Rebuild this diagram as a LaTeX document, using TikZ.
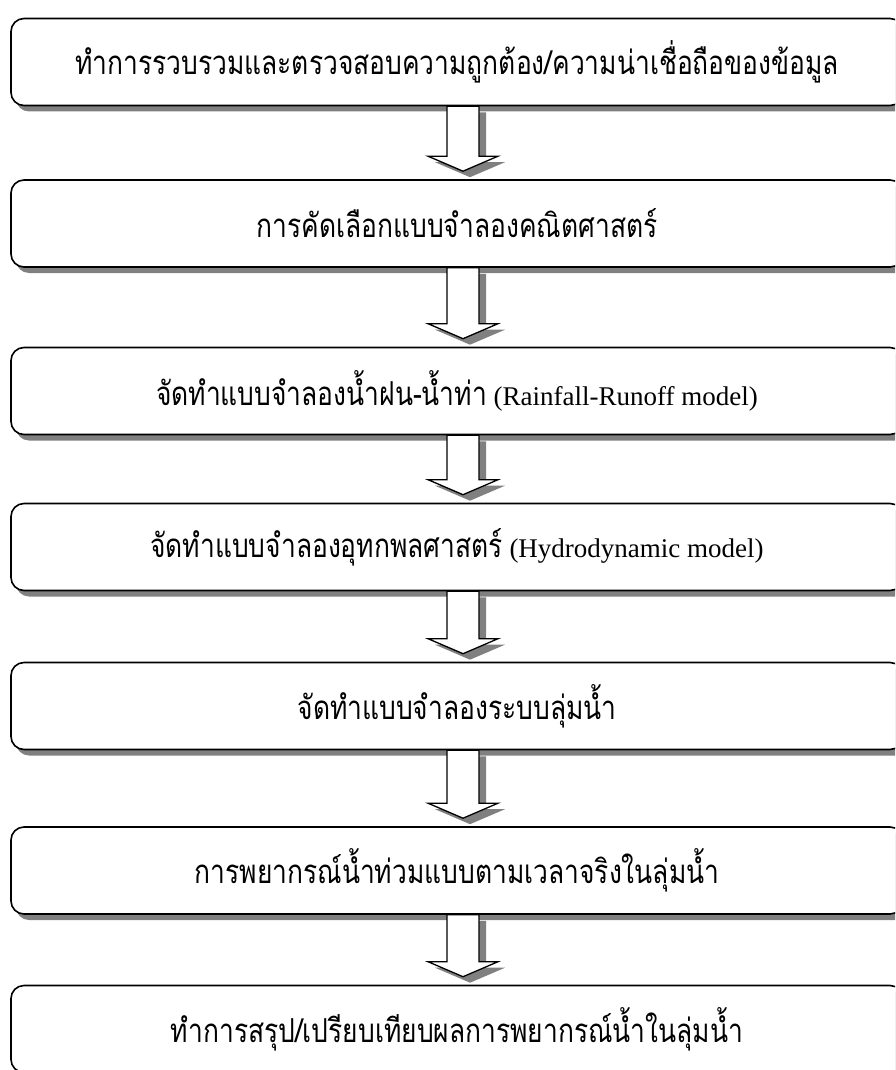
\documentclass[tikz,border=0pt]{standalone}
\usepackage{fontspec}
\setmainfont{Liberation Serif}
\newfontfamily\thaifont[Script=Thai,FakeStretch=0.80]{Loma}
\usetikzlibrary{shadows,calc}
\definecolor{shadowgray}{HTML}{808080}
% #1,#2 node names; #3,#4 offset (pt); #5 style
\newcommand{\arrowpoly}[5]{%
  \path[#5] let \p1=(#1.south), \p2=(#2.north) in
    (\x1-10pt+#3,\y1-#4) -- (\x1-10pt+#3,\y2+23pt-#4) -- (\x1-29pt+#3,\y2+23pt-#4)
    -- (\x1+6pt+#3,\y2+8pt-#4) -- (\x1+41pt+#3,\y2+23pt-#4) -- (\x1+22pt+#3,\y2+23pt-#4)
    -- (\x1+22pt+#3,\y1-#4) -- cycle;
}
\newcommand{\blockarrow}[2]{%
  \arrowpoly{#1}{#2}{7pt}{6pt}{fill=shadowgray}%
  \arrowpoly{#1}{#2}{0pt}{0pt}{arrowshape}%
}
\newcommand{\tht}[1]{{\fontsize{33}{38}\thaifont #1}}
\begin{document}
\begin{tikzpicture}[x=1pt,y=-1pt,
  stepbox/.style={draw=black, line width=1.6pt, rounded corners=13pt, fill=white,
    minimum width=892pt, minimum height=87pt, inner sep=0pt,
    font=\fontsize{27}{32}\selectfont,
    drop shadow={shadow xshift=5pt, shadow yshift=-6pt, fill=shadowgray, opacity=1}},
  arrowshape/.style={draw=black, line width=1.3pt, fill=white, line join=miter}]
\useasboundingbox (0,0) rectangle (895,1070);
\clip (0,0) rectangle (895,1070);
\fill[white] (0,0) rectangle (895,1070);
\node[stepbox] (b1) at (457,62) {\tht{ทำการรวบรวมและตรวจสอบความถูกต้อง/ความน่าเชื่อถือของข้อมูล}};
\node[stepbox] (b2) at (457,223.5) {\tht{การคัดเลือกแบบจำลองคณิตศาสตร์}};
\node[stepbox] (b3) at (457,391) {\tht{จัดทำแบบจำลองน้ำฝน-น้ำท่า} (Rainfall-Runoff model)};
\node[stepbox] (b4) at (457,547) {\tht{จัดทำแบบจำลองอุทกพลศาสตร์} (Hydrodynamic model)};
\node[stepbox] (b5) at (457,706) {\tht{จัดทำแบบจำลองระบบลุ่มน้ำ}};
\node[stepbox] (b6) at (457,870.5) {\tht{การพยากรณ์น้ำท่วมแบบตามเวลาจริงในลุ่มน้ำ}};
\node[stepbox] (b7) at (457,1029) {\tht{ทำการสรุป/เปรียบเทียบผลการพยากรณ์น้ำในลุ่มน้ำ}};
\blockarrow{b1}{b2}
\blockarrow{b2}{b3}
\blockarrow{b3}{b4}
\blockarrow{b4}{b5}
\blockarrow{b5}{b6}
\blockarrow{b6}{b7}
\end{tikzpicture}
\end{document}
